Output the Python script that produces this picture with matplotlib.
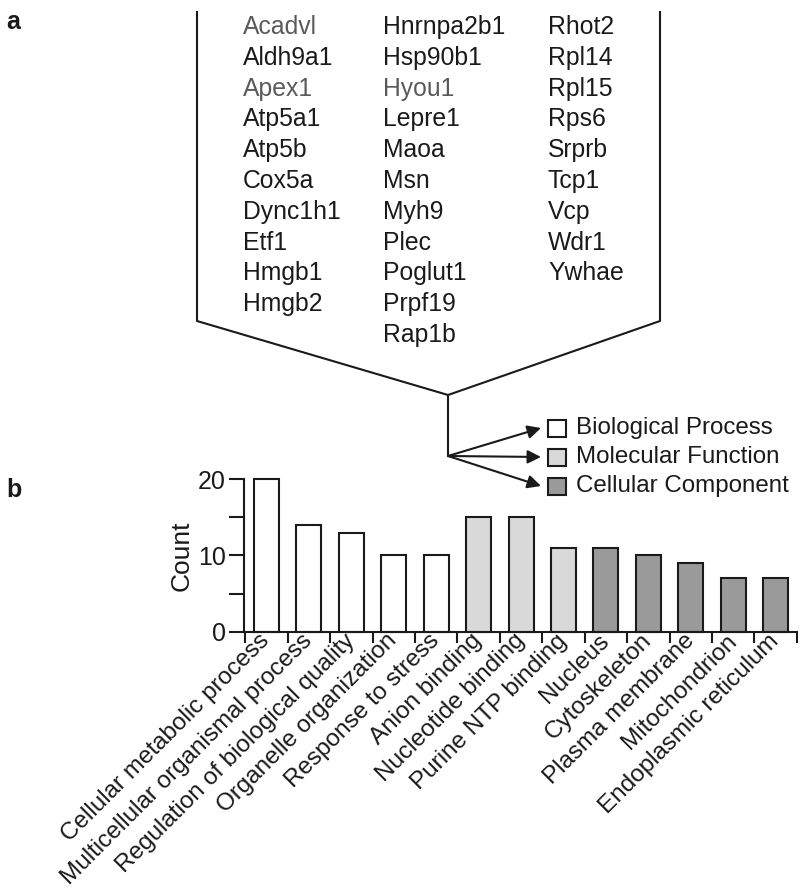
import numpy as np
import matplotlib
matplotlib.use('Agg')
import matplotlib.pyplot as plt
from matplotlib.patches import Rectangle

plt.rcParams['font.family'] = ['Liberation Sans', 'DejaVu Sans']

# ---- 数据 ----
genes_col1 = ['Acadvl', 'Aldh9a1', 'Apex1', 'Atp5a1', 'Atp5b', 'Cox5a',
              'Dync1h1', 'Etf1', 'Hmgb1', 'Hmgb2']
genes_col2 = ['Hnrnpa2b1', 'Hsp90b1', 'Hyou1', 'Lepre1', 'Maoa', 'Msn',
              'Myh9', 'Plec', 'Poglut1', 'Prpf19', 'Rap1b']
genes_col3 = ['Rhot2', 'Rpl14', 'Rpl15', 'Rps6', 'Srprb', 'Tcp1', 'Vcp',
              'Wdr1', 'Ywhae']
grey_genes = ['Acadvl', 'Apex1', 'Hyou1']

terms = ['Cellular metabolic process', 'Multicellular organismal process',
         'Regulation of biological quality', 'Organelle organization',
         'Response to stress', 'Anion binding', 'Nucleotide binding',
         'Purine NTP binding', 'Nucleus', 'Cytoskeleton', 'Plasma membrane',
         'Mitochondrion', 'Endoplasmic reticulum']
counts = [20, 14, 13, 10, 10, 15, 15, 11, 11, 10, 9, 7, 7]
groups = ['BP'] * 5 + ['MF'] * 3 + ['CC'] * 5

group_names = ['Biological Process', 'Molecular Function', 'Cellular Component']
group_colors = {'BP': 'white', 'MF': '#d9d9d9', 'CC': '#9a9a9a'}

dark = '#1a1a1a'

fig = plt.figure(figsize=(8, 8.94), dpi=100)

# 整张图的像素坐标系,画 a 部分的框线、基因名和图例
bg = fig.add_axes([0, 0, 1, 1])
bg.set_xlim(0, 800)
bg.set_ylim(894, 0)
bg.axis('off')

bg.text(6, 22, 'a', fontsize=18, fontweight='bold', va='center', color=dark)
bg.text(6, 490, 'b', fontsize=18, fontweight='bold', va='center', color=dark)

# 框线
bg.plot([197, 197, 448, 660, 660], [12, 321, 395, 321, 12], color=dark, lw=1.5)
bg.plot([448, 448], [395, 456], color=dark, lw=1.5)

# 基因名
col_x = [243, 383, 548]
for cx, col in zip(col_x, [genes_col1, genes_col2, genes_col3]):
    for i, g in enumerate(col):
        c = '#5a5a5a' if g in grey_genes else dark
        bg.text(cx, 27 + i * 30.8, g, fontsize=17.8, va='center', ha='left', color=c)

# 图例 + 箭头
leg_y = [428, 457, 486]
for yy, name, key in zip(leg_y, group_names, ['BP', 'MF', 'CC']):
    bg.annotate('', xy=(541, yy), xytext=(448, 456),
                arrowprops=dict(arrowstyle='-|>', color=dark, lw=1.5,
                                mutation_scale=20, shrinkA=0, shrinkB=0))
    bg.add_patch(Rectangle((548, yy - 8.5), 18, 17, facecolor=group_colors[key],
                           edgecolor=dark, lw=1.5))
    bg.text(576, yy, name, fontsize=17.4, va='center', ha='left', color=dark)

# ---- b 部分:柱状图 ----
ax = fig.add_axes([0.305, 0.2931, 0.691, 0.1711])
ax.patch.set_alpha(0)
x = np.arange(len(terms))
ax.bar(x, counts, width=0.59, color=[group_colors[g] for g in groups],
       edgecolor=dark, linewidth=1.5, clip_on=False)
ax.set_xlim(-0.53, 12.5)
ax.set_ylim(0, 20)

for s in ['top', 'right']:
    ax.spines[s].set_visible(False)
for s in ['left', 'bottom']:
    ax.spines[s].set_linewidth(1.5)
    ax.spines[s].set_color(dark)

ax.set_yticks([0, 10, 20])
ax.set_yticks([5, 15], minor=True)
ax.tick_params(axis='y', which='both', length=11, width=1.5, colors=dark,
               labelsize=18, pad=2)

ax.set_xticks(x)
ax.set_xticklabels(terms, rotation=45, ha='right', va='center',
                   rotation_mode='anchor', fontsize=17.5)
ax.set_xticks(np.arange(len(terms) + 1) - 0.5, minor=True)
ax.tick_params(axis='x', which='major', length=0, pad=4, colors=dark)
ax.tick_params(axis='x', which='minor', length=8, width=1.5, colors=dark)

ax.set_ylabel('Count', fontsize=19, color=dark, labelpad=3)

fig.savefig('out.png', dpi=100)
